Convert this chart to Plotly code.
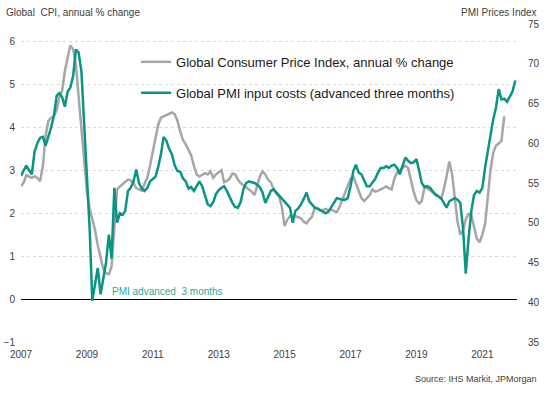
import plotly.graph_objects as go
import pandas as pd

# Global CPI, annual % change (monthly, Jan 2007 - Sep 2021)
cpi_2007 = [2.62, 2.72, 2.88, 2.84, 2.82, 2.86, 2.82, 2.74, 3.10, 3.80, 4.15, 4.22]
cpi_2008 = [4.25, 4.40, 4.70, 4.85, 5.30, 5.62, 5.90, 5.82, 5.45, 4.70, 3.90, 3.20]
cpi_2009 = [2.50, 2.10, 1.85, 1.60, 1.25, 0.95, 0.70, 0.60, 0.58, 0.75, 1.80, 2.55]
cpi_2010 = [2.62, 2.68, 2.72, 2.78, 2.76, 2.70, 2.58, 2.55, 2.52, 2.68, 2.82, 3.10]
cpi_2011 = [3.40, 3.78, 4.05, 4.22, 4.25, 4.28, 4.30, 4.34, 4.30, 4.15, 3.90, 3.70]
cpi_2012 = [3.60, 3.48, 3.35, 3.10, 2.90, 2.85, 2.90, 2.93, 2.90, 2.97, 2.82, 2.90]
cpi_2013 = [2.95, 3.00, 2.72, 2.75, 2.80, 2.92, 2.90, 2.78, 2.70, 2.65, 2.62, 2.55]
cpi_2014 = [2.50, 2.42, 2.62, 2.85, 2.97, 2.90, 2.78, 2.72, 2.55, 2.45, 2.38, 2.15]
cpi_2015 = [1.70, 1.85, 1.93, 1.92, 1.93, 1.90, 1.88, 1.80, 1.76, 1.85, 1.92, 2.12]
cpi_2016 = [2.10, 2.05, 2.08, 2.10, 2.06, 2.08, 2.05, 2.02, 2.15, 2.32, 2.45, 2.62]
cpi_2017 = [2.80, 2.85, 2.68, 2.50, 2.35, 2.28, 2.35, 2.42, 2.55, 2.50, 2.52, 2.55]
cpi_2018 = [2.58, 2.62, 2.58, 2.55, 2.80, 2.95, 3.00, 3.05, 3.10, 3.05, 2.75, 2.50]
cpi_2019 = [2.30, 2.22, 2.28, 2.60, 2.58, 2.52, 2.48, 2.45, 2.40, 2.32, 2.55, 2.85]
cpi_2020 = [3.20, 2.90, 2.40, 1.80, 1.50, 1.60, 1.85, 1.98, 1.95, 1.70, 1.40, 1.32]
cpi_2021 = [1.50, 1.75, 2.30, 3.00, 3.40, 3.57, 3.62, 3.68, 4.25]

# Global PMI input costs, advanced three months (monthly, Jan 2007 - Jan 2022)
pmi_2007 = [55.9, 56.5, 57.2, 56.6, 56.1, 59.0, 60.0, 60.7, 60.8, 59.7, 60.8, 62.0]
pmi_2008 = [63.5, 66.0, 66.3, 65.8, 64.6, 66.5, 67.0, 68.5, 71.8, 71.4, 69.0, 62.6]
pmi_2009 = [56.0, 49.0, 40.2, 42.5, 44.3, 41.0, 43.0, 45.0, 48.5, 45.5, 54.4, 50.0]
pmi_2010 = [51.2, 51.0, 51.5, 54.0, 54.4, 55.2, 56.7, 55.0, 54.3, 54.0, 54.4, 55.2]
pmi_2011 = [55.5, 55.8, 57.0, 58.6, 60.8, 60.3, 59.3, 58.6, 57.2, 56.5, 56.4, 55.6]
pmi_2012 = [55.2, 54.3, 54.5, 54.0, 54.6, 55.2, 54.6, 53.5, 52.3, 52.1, 52.6, 53.6]
pmi_2013 = [54.1, 54.4, 54.6, 54.0, 53.2, 52.5, 52.0, 51.9, 52.6, 54.2, 55.0, 55.2]
pmi_2014 = [55.1, 55.0, 54.8, 54.5, 53.8, 52.5, 53.2, 54.0, 54.2, 53.8, 53.5, 53.0]
pmi_2015 = [52.7, 52.3, 51.9, 50.0, 51.5, 51.8, 52.3, 53.0, 53.8, 52.7, 52.3, 51.9]
pmi_2016 = [51.8, 51.6, 51.4, 51.2, 51.4, 51.9, 52.5, 53.1, 53.0, 52.9, 52.9, 53.1]
pmi_2017 = [54.6, 56.5, 57.3, 56.3, 56.1, 55.4, 54.6, 54.6, 55.0, 55.5, 56.3, 56.9]
pmi_2018 = [56.9, 57.1, 56.9, 57.2, 57.3, 56.9, 56.1, 57.3, 58.2, 57.8, 57.5, 57.6]
pmi_2019 = [58.0, 56.5, 55.0, 54.5, 54.6, 54.4, 54.0, 53.5, 53.3, 53.1, 52.5, 51.9]
pmi_2020 = [52.7, 52.9, 53.1, 52.9, 52.5, 49.3, 43.6, 48.0, 51.5, 53.5, 54.0, 53.8]
pmi_2021 = [54.4, 57.0, 59.0, 61.0, 63.0, 64.5, 66.8, 65.5, 65.6, 65.2, 65.8, 66.5]
pmi_2022 = [67.9]

cpi = (cpi_2007 + cpi_2008 + cpi_2009 + cpi_2010 + cpi_2011 + cpi_2012 + cpi_2013
       + cpi_2014 + cpi_2015 + cpi_2016 + cpi_2017 + cpi_2018 + cpi_2019 + cpi_2020 + cpi_2021)
pmi = (pmi_2007 + pmi_2008 + pmi_2009 + pmi_2010 + pmi_2011 + pmi_2012 + pmi_2013
       + pmi_2014 + pmi_2015 + pmi_2016 + pmi_2017 + pmi_2018 + pmi_2019 + pmi_2020
       + pmi_2021 + pmi_2022)

cpi_dates = pd.date_range("2007-01-01", periods=len(cpi), freq="MS")
pmi_dates = pd.date_range("2007-01-01", periods=len(pmi), freq="MS")

cpi_name = "Global Consumer Price Index, annual % change"
pmi_name = "Global PMI input costs (advanced three months)"
note_text = "PMI advanced  3 months"
left_title = "Global  CPI, annual % change"
right_title = "PMI Prices Index"
source_text = "Source: IHS Markit, JPMorgan"

GRAY = "#a6a6a6"
TEAL = "#0a9485"
FONT = "Liberation Sans, Arial, sans-serif"

fig = go.Figure()
fig.add_trace(go.Scatter(x=cpi_dates, y=cpi, name=cpi_name, mode="lines",
                         line=dict(color=GRAY, width=2.5), legendgroup="a"))
fig.add_trace(go.Scatter(x=pmi_dates, y=pmi, name=pmi_name, mode="lines",
                         line=dict(color=TEAL, width=2.5), yaxis="y2", legendgroup="b"))

fig.update_layout(
    width=546, height=393,
    margin=dict(l=21, r=29, t=24, b=51),
    paper_bgcolor="white", plot_bgcolor="white",
    font=dict(family=FONT, size=10, color="#404040"),
    showlegend=True,
    legend=dict(x=0.232, y=0.928, xanchor="left", yanchor="top",
                font=dict(size=13, color="#1a1a1a"), bgcolor="rgba(0,0,0,0)",
                tracegroupgap=11, traceorder="grouped"),
    xaxis=dict(type="date", range=["2007-01-01", "2022-01-20"],
               tickformat="%Y", dtick="M24", tick0="2007-01-01",
               showgrid=False, showline=False, ticks="", ticklabelstandoff=5,
               automargin=False, tickfont=dict(size=10, color="#404040")),
    yaxis=dict(range=[-1, 6.4], dtick=1, tick0=0, showgrid=True,
               gridcolor="#d9d9d9", griddash="dot", gridwidth=1,
               zeroline=True, zerolinecolor="black", zerolinewidth=1.3,
               ticks="", ticklabelstandoff=5, automargin=False,
               tickfont=dict(size=10, color="#404040")),
    yaxis2=dict(range=[35, 75], dtick=5, overlaying="y", side="right",
                showgrid=False, zeroline=False, ticks="", ticklabelstandoff=10,
                automargin=False, tickfont=dict(size=10, color="#404040")),
)

fig.add_annotation(text=left_title, xref="paper", yref="paper", x=-0.034, y=1.035,
                   xanchor="left", yanchor="middle", showarrow=False,
                   font=dict(size=10, color="#404040"))
fig.add_annotation(text=right_title, xref="paper", yref="paper", x=1.045, y=1.035,
                   xanchor="right", yanchor="middle", showarrow=False,
                   font=dict(size=10, color="#404040"))
fig.add_annotation(text=source_text, xref="paper", yref="paper", x=1.044, y=-0.116,
                   xanchor="right", yanchor="middle", showarrow=False,
                   font=dict(size=9, color="#404040"))
fig.add_annotation(text=note_text, xref="paper", yref="paper", x=0.179, y=0.16,
                   xanchor="left", yanchor="middle", showarrow=False,
                   font=dict(size=10, color="#2aa99a"))

fig.write_html("out.html", config={"displayModeBar": False},
               post_script="document.body.style.margin='0';document.body.style.overflow='hidden';")
